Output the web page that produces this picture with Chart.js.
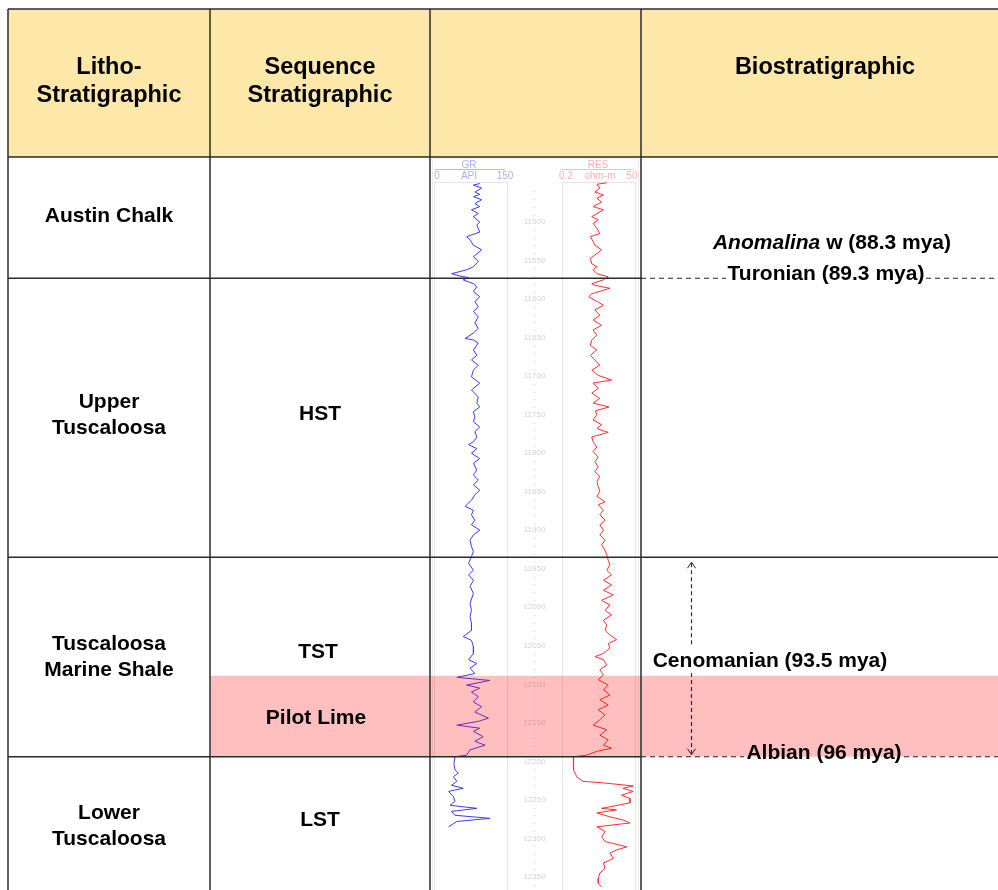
<!DOCTYPE html>
<html><head><meta charset="utf-8">
<script src="https://cdn.jsdelivr.net/npm/chart.js@4/dist/chart.umd.min.js"></script>
<style>
html,body{margin:0;padding:0;background:#fff;}
#wrap{position:relative;width:998px;height:890px;overflow:hidden;font-family:"Liberation Sans",Arial,sans-serif;}
#c{position:absolute;left:0;top:0;}
.t{position:absolute;transform:translate(-50%,-50%);white-space:nowrap;text-align:center;font-weight:bold;color:#000;}
.h{font-size:23.5px;line-height:28px;}
.b{font-size:21px;line-height:26px;}
.s{position:absolute;font-size:10px;line-height:11px;white-space:nowrap;transform:translate(-50%,-50%);}
.gr{color:#aab0ff;}
.rs{color:#ffb0b0;}
</style></head><body>
<div id="wrap">
<canvas id="c" width="998" height="890"></canvas>

<div class="t h" style="left:109px;top:80px">Litho-<br>Stratigraphic</div>
<div class="t h" style="left:320px;top:80px">Sequence<br>Stratigraphic</div>
<div class="t h" style="left:825px;top:66px">Biostratigraphic</div>

<div class="t b" style="left:109px;top:215px">Austin Chalk</div>
<div class="t b" style="left:109px;top:414px">Upper<br>Tuscaloosa</div>
<div class="t b" style="left:320px;top:413px">HST</div>
<div class="t b" style="left:109px;top:656px">Tuscaloosa<br>Marine Shale</div>
<div class="t b" style="left:318px;top:651px">TST</div>
<div class="t b" style="left:316px;top:717px">Pilot Lime</div>
<div class="t b" style="left:109px;top:825px">Lower<br>Tuscaloosa</div>
<div class="t b" style="left:320px;top:819px">LST</div>

<div class="t b" style="left:832px;top:242px"><i>Anomalina</i> w (88.3 mya)</div>
<div class="t b" style="left:826px;top:273px">Turonian (89.3 mya)</div>
<div class="t b" style="left:770px;top:660px">Cenomanian (93.5 mya)</div>
<div class="t b" style="left:824px;top:752px">Albian (96 mya)</div>

<div class="s gr" style="left:469px;top:164px">GR</div>
<div class="s gr" style="left:437px;top:175px">0</div>
<div class="s gr" style="left:469px;top:175px">API</div>
<div class="s gr" style="left:505px;top:175px">150</div>
<div class="s rs" style="left:598px;top:164px">RES</div>
<div class="s rs" style="left:566px;top:175px">0.2</div>
<div class="s rs" style="left:600px;top:175px">ohm-m</div>
<div class="s rs" style="left:632px;top:175px">50</div>
</div>

<script>
// ---------------- DATA ----------------
const grDepth = [11450,11452,11456,11461,11464,11467,11471,11476,11480,11484,11489,11493,11500,11504,11513,11519,11523,11530,11536,11545,11551,11558,11562,11567,11570,11572,11575,11580,11584,11590,11597,11603,11610,11616,11623,11631,11638,11644,11651,11653,11657,11666,11673,11679,11686,11692,11701,11709,11718,11727,11735,11740,11746,11753,11759,11766,11772,11779,11785,11789,11794,11800,11807,11813,11822,11828,11835,11841,11848,11854,11861,11869,11874,11880,11887,11893,11900,11906,11913,11921,11928,11934,11943,11952,11958,11965,11973,11982,11995,12004,12012,12021,12030,12038,12043,12051,12060,12068,12073,12079,12086,12091,12095,12101,12105,12110,12116,12123,12129,12136,12144,12148,12153,12157,12161,12168,12174,12179,12185,12192,12194,12203,12211,12215,12220,12226,12231,12235,12239,12246,12252,12257,12261,12265,12270,12274,12278,12285];
const grValue = [94,81,98,84,94,81,98,84,94,77,91,81,94,88,94,67,74,81,98,81,91,81,67,36,53,71,60,81,88,81,94,84,91,81,91,84,91,81,64,81,91,81,88,77,91,81,77,94,77,91,88,94,81,84,81,94,84,88,81,71,88,77,94,81,88,81,91,81,94,84,77,64,81,77,84,77,94,81,74,77,81,77,71,81,71,81,74,81,74,77,74,77,77,60,77,81,81,71,88,74,84,47,115,67,94,77,91,81,98,84,112,91,47,94,81,101,84,105,74,67,43,41,43,50,40,47,36,60,30,40,43,33,88,36,43,115,47,30];

const resDepth = [11449,11451,11456,11461,11465,11469,11474,11480,11484,11489,11493,11497,11502,11508,11515,11519,11525,11530,11536,11543,11547,11554,11558,11562,11567,11571,11575,11580,11582,11586,11593,11597,11603,11608,11614,11621,11627,11634,11640,11647,11653,11660,11666,11673,11679,11686,11692,11699,11705,11709,11716,11722,11729,11735,11740,11745,11750,11757,11763,11768,11773,11779,11785,11792,11798,11805,11811,11818,11824,11830,11837,11843,11850,11856,11863,11867,11874,11880,11887,11893,11900,11906,11913,11919,11926,11932,11939,11945,11952,11958,11965,11971,11978,11984,11991,11997,12004,12010,12017,12023,12030,12036,12042,12047,12053,12060,12064,12068,12075,12081,12088,12094,12101,12107,12114,12120,12127,12133,12140,12146,12153,12159,12166,12172,12179,12183,12187,12192,12194,12203,12211,12220,12226,12228,12232,12235,12239,12244,12248,12254,12261,12263,12267,12272,12276,12280,12285,12291,12298,12304,12311,12315,12319,12326,12332,12339,12345,12352,12358,12363];
const resValue = [5.9,2.8,3.5,2.4,4.6,2.8,4.0,2.1,4.6,2.8,1.9,3.1,2.1,2.8,3.5,1.7,2.1,2.4,4.0,2.4,1.7,1.9,2.8,2.1,2.8,6.6,4.6,1.9,2.4,7.5,1.9,1.5,2.8,4.6,2.4,3.5,2.1,4.0,2.1,2.8,1.9,1.7,2.8,1.7,2.4,3.5,1.9,3.1,8.5,2.1,3.1,1.9,3.5,2.1,7.0,2.5,2.8,2.1,4.0,2.8,6.6,1.9,2.1,2.8,2.1,3.1,2.4,3.1,2.4,3.5,2.8,3.1,3.5,2.8,5.2,3.1,4.6,3.5,5.2,3.5,4.6,3.5,5.2,4.0,5.2,5.9,6.6,7.5,5.9,8.5,4.6,8.5,4.6,9.7,4.0,7.5,5.2,8.5,4.6,5.9,5.2,7.5,12.4,6.6,7.5,4.6,2.4,4.6,5.9,3.5,4.6,3.1,6.6,4.6,7.5,3.5,6.6,3.1,5.2,3.5,2.1,5.9,3.5,6.6,4.6,8.5,2.8,1.3,0.47,0.47,0.49,0.61,0.98,4.6,44,20,44,18,34,34,4.0,12.4,2.8,7.5,20,34,2.8,5.2,4.0,5.2,27,12.4,7.5,9.7,4.6,5.2,3.5,3.1,3.1,4.0];

const depthTickLabels = [11500,11550,11600,11650,11700,11750,11800,11850,11900,11950,12000,12050,12100,12150,12200,12250,12300,12350];
const formationTops = [11573, 11935, 12194];   // Austin/Upper, Upper/TMS, TMS/Lower
const pilotLimeTop = 12089;
const grRange = [0, 150];
const resRange = [0.2, 50];
const depthRange = [11448, 12367];

// ---------------- LAYOUT ----------------
const AREA = {left:434, right:635, top:182, bottom:890};
const GR_TRACK = [434, 507];
const DEPTH_TRACK = [507, 562];
const RES_TRACK = [562, 635];
const COLS = [8, 210, 430, 641];
const HEADER = [9, 157];
const W = 998, H = 890;

const grMax = grRange[1] * (AREA.right - AREA.left) / (GR_TRACK[1] - GR_TRACK[0]);
const decades = Math.log10(resRange[1] / resRange[0]) * (AREA.right - AREA.left) / (RES_TRACK[1] - RES_TRACK[0]);
const resMin = resRange[1] / Math.pow(10, decades);

const LINE = '#2a2a2a';

const tablePlugin = {
  id: 'strat',
  beforeDraw(chart) {
    const c = chart.ctx;
    c.save();
    c.fillStyle = '#FDE8AA';
    c.fillRect(COLS[0], HEADER[0], W - COLS[0], HEADER[1] - HEADER[0]);
    // faint log frame
    c.strokeStyle = '#ececec';
    c.lineWidth = 1;
    c.strokeRect(432.5, 158.5, 206, 740);
    c.restore();
  },
  beforeDatasetsDraw(chart) {
    const c = chart.ctx, y = chart.scales.y;
    c.save();
    c.strokeStyle = '#e4e4e4';
    c.lineWidth = 1;
    [GR_TRACK, RES_TRACK].forEach(t => {
      c.strokeRect(t[0] + 0.5, AREA.top + 0.5, t[1] - t[0], AREA.bottom - AREA.top + 10);
    });
    // header underlines
    c.strokeStyle = '#b4b8ff';
    c.beginPath(); c.moveTo(435, 169.5); c.lineTo(505, 169.5); c.stroke();
    c.strokeStyle = '#ffbcbc';
    c.beginPath(); c.moveTo(560, 169.5); c.lineTo(633, 169.5); c.stroke();
    // depth labels
    const cx = (DEPTH_TRACK[0] + DEPTH_TRACK[1]) / 2;
    c.fillStyle = '#d2d2d2';
    c.font = '8px "Liberation Sans", Arial, sans-serif';
    c.textAlign = 'center';
    c.textBaseline = 'middle';
    depthTickLabels.forEach(d => c.fillText(String(d), cx, y.getPixelForValue(d)));
    for (let d = 11460; d <= 12360; d += 10) {
      if (d % 50 === 0) continue;
      c.fillText('-', cx, y.getPixelForValue(d));
    }
    c.restore();
  },
  afterDatasetsDraw(chart) {
    const c = chart.ctx, y = chart.scales.y;
    const yA = y.getPixelForValue(formationTops[0]);
    const yB = y.getPixelForValue(formationTops[1]);
    const yC = y.getPixelForValue(formationTops[2]);
    const yP = y.getPixelForValue(pilotLimeTop);
    c.save();
    // Pilot Lime band
    c.fillStyle = 'rgba(255,0,0,0.25)';
    c.fillRect(COLS[1], yP, W - COLS[1], yC - yP);
    // table lines
    c.strokeStyle = LINE;
    c.lineWidth = 1.5;
    const hl = (y0, x0, x1) => { c.beginPath(); c.moveTo(x0, y0); c.lineTo(x1, y0); c.stroke(); };
    const vl = (x0, y0, y1) => { c.beginPath(); c.moveTo(x0, y0); c.lineTo(x0, y1); c.stroke(); };
    hl(HEADER[0], COLS[0], W);
    hl(HEADER[1], COLS[0], W);
    hl(yA, COLS[0], COLS[3]);
    hl(yB, COLS[0], W);
    hl(yC, COLS[0], COLS[3]);
    COLS.forEach(x => vl(x, HEADER[0], H));
    // dashed biostrat lines
    c.lineWidth = 1.1;
    c.setLineDash([5, 4]);
    c.strokeStyle = '#222';
    hl(yA, COLS[3], 726); hl(yA, 926, W);
    hl(yC, COLS[3], 744); hl(yC, 904, W);
    // vertical dashed arrow
    const ax = 691.5, top = yB + 5, bot = yC - 2;
    c.setLineDash([4, 3]);
    vl(ax, top + 1, 647);
    vl(ax, 673, bot - 1);
    c.setLineDash([]);
    c.lineWidth = 1;
    c.beginPath();
    c.moveTo(ax - 4, top + 6); c.lineTo(ax, top); c.lineTo(ax + 4, top + 6);
    c.moveTo(ax - 4, bot - 6); c.lineTo(ax, bot); c.lineTo(ax + 4, bot - 6);
    c.stroke();
    c.restore();
  }
};

new Chart(document.getElementById('c'), {
  type: 'line',
  data: {
    datasets: [
      { label: 'GR', data: grDepth.map((d, i) => ({x: grValue[i], y: d})), xAxisID: 'xGR', yAxisID: 'y',
        borderColor: '#3a3aff', borderWidth: 1, pointRadius: 0, tension: 0, fill: false },
      { label: 'RES', data: resDepth.map((d, i) => ({x: resValue[i], y: d})), xAxisID: 'xRES', yAxisID: 'y',
        borderColor: '#ff2e2e', borderWidth: 1, pointRadius: 0, tension: 0, fill: false }
    ]
  },
  options: {
    indexAxis: 'y',
    responsive: false,
    animation: false,
    devicePixelRatio: 1,
    events: [],
    layout: { padding: { left: AREA.left, right: W - AREA.right, top: AREA.top, bottom: H - AREA.bottom } },
    plugins: { legend: { display: false }, tooltip: { enabled: false } },
    scales: {
      xGR: { type: 'linear', position: 'top', min: grRange[0], max: grMax, display: false },
      xRES: { type: 'logarithmic', position: 'top', min: resMin, max: resRange[1], display: false },
      y: { type: 'linear', reverse: true, min: depthRange[0], max: depthRange[1], display: false }
    }
  },
  plugins: [tablePlugin]
});
</script>
</body></html>
